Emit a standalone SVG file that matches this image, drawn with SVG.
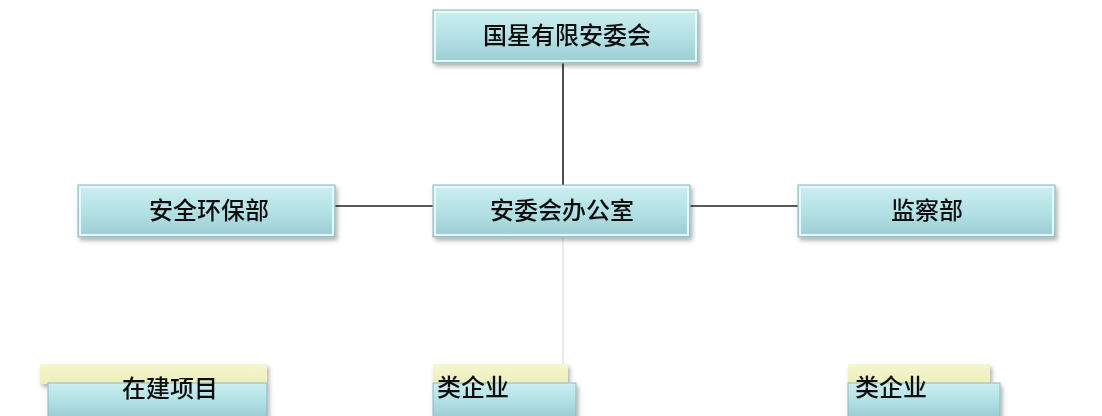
<svg xmlns="http://www.w3.org/2000/svg" width="1102" height="416" viewBox="0 0 1102 416">
<style>
.t{font-family:"Noto Sans CJK SC","Noto Sans",sans-serif;font-size:24px;font-weight:500;fill:#111;text-anchor:middle;dominant-baseline:central}
.box{fill:url(#g);stroke:#8fb8bd;stroke-width:1}
.hi{fill:none;stroke:#e6f8f9;stroke-width:2}
.ln{stroke:#222;stroke-width:1.6;fill:none}
.lf{stroke:#dcdcdc;stroke-width:1.2;fill:none}
.yb{fill:url(#y)}
</style>
<defs>
<linearGradient id="g" x1="0" y1="0" x2="0" y2="1">
<stop offset="0" stop-color="#cdeff1"/>
<stop offset="0.5" stop-color="#b3e1e6"/>
<stop offset="1" stop-color="#9ccdd2"/>
</linearGradient>
<linearGradient id="y" x1="0" y1="0" x2="0" y2="1">
<stop offset="0" stop-color="#f6f6d2"/>
<stop offset="1" stop-color="#eeeeb8"/>
</linearGradient>
<filter id="s" x="-5%" y="-10%" width="112%" height="135%">
<feDropShadow dx="2" dy="3" stdDeviation="2" flood-color="#000" flood-opacity="0.3"/>
</filter>
</defs>
<g id="connectors">
<line class="ln" x1="563" y1="63" x2="563" y2="186"/>
<line class="ln" x1="335" y1="206" x2="433" y2="206"/>
<line class="ln" x1="690" y1="206" x2="798" y2="206"/>
<line class="lf" x1="563" y1="237" x2="563" y2="364"/>
</g>
<g id="n-top" filter="url(#s)">
<rect class="box" x="433" y="10" width="265" height="53"/>
<rect class="hi" x="435" y="12" width="261" height="49"/>
<text class="t" x="567" y="33">国星有限安委会</text>
</g>
<g id="n-safety" filter="url(#s)">
<rect class="box" x="78" y="185" width="257" height="52"/>
<rect class="hi" x="80" y="187" width="253" height="48"/>
<text class="t" x="209" y="208">安全环保部</text>
</g>
<g id="n-office" filter="url(#s)">
<rect class="box" x="433" y="185" width="257" height="52"/>
<rect class="hi" x="435" y="187" width="253" height="48"/>
<text class="t" x="562" y="208">安委会办公室</text>
</g>
<g id="n-supervision" filter="url(#s)">
<rect class="box" x="798" y="185" width="257" height="52"/>
<rect class="hi" x="800" y="187" width="253" height="48"/>
<text class="t" x="927" y="208">监察部</text>
</g>
<g id="n-projects" filter="url(#s)">
<rect class="yb" x="40" y="364" width="227" height="20"/>
<rect class="box" x="48" y="383" width="219" height="34"/>
<text class="t" x="170" y="386">在建项目</text>
</g>
<g id="n-class-a" filter="url(#s)">
<rect class="yb" x="433" y="364" width="135" height="20"/>
<rect class="box" x="433" y="383" width="143" height="34"/>
<text class="t" x="473" y="385">类企业</text>
</g>
<g id="n-class-b" filter="url(#s)">
<rect class="yb" x="848" y="364" width="142" height="20"/>
<rect class="box" x="848" y="383" width="152" height="34"/>
<text class="t" x="891" y="385">类企业</text>
</g>
</svg>
